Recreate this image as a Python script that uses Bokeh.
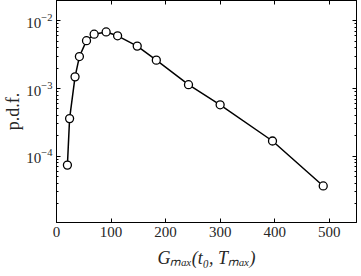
from bokeh.plotting import figure
from bokeh.models import LinearAxis, LogAxis, FixedTicker, Range1d, LogTickFormatter
from bokeh.embed import file_html
from bokeh.resources import INLINE

# data
g_max = [20, 24, 34, 42, 55, 69, 91, 112, 148, 183, 242, 300, 396, 489]
pdf = [7.4e-5, 3.6e-4, 1.49e-3, 2.97e-3, 5.1e-3, 6.36e-3, 6.86e-3, 6.02e-3,
       4.24e-3, 2.63e-3, 1.14e-3, 5.75e-4, 1.68e-4, 3.64e-5]

x_ticks = [0, 100, 200, 300, 400, 500]
y_ticks = [1e-4, 1e-3, 1e-2]
y_minor = [m * d for d in [1e-5, 1e-4, 1e-3, 1e-2] for m in range(2, 10)]

FONT = "Liberation Serif"

p = figure(frame_width=300, frame_height=222, y_axis_type="log",
           x_range=Range1d(0, 550), y_range=Range1d(1.05e-5, 2e-2),
           output_backend="svg", toolbar_location=None,
           min_border_left=46, min_border_right=1, min_border_top=0,
           min_border_bottom=0)
p.background_fill_color = "white"
p.border_fill_color = "white"
p.outline_line_color = "black"
p.outline_line_width = 1
p.xgrid.visible = False
p.ygrid.visible = False

p.line(g_max, pdf, line_color="black", line_width=1.5)
p.scatter(g_max, pdf, size=8, fill_color="white", line_color="black",
          line_width=1.3)

xt = FixedTicker(ticks=x_ticks)
yt = FixedTicker(ticks=y_ticks, minor_ticks=y_minor)

def style(ax):
    ax.axis_line_color = "black"
    ax.axis_line_width = 1
    ax.major_tick_in = 4
    ax.major_tick_out = 0
    ax.minor_tick_in = 2
    ax.minor_tick_out = 0
    ax.major_tick_line_color = "black"
    ax.minor_tick_line_color = "black"
    ax.major_label_text_font = FONT
    ax.major_label_text_font_size = "15px"
    ax.major_label_text_color = "#262626"
    ax.axis_label_text_font = FONT
    ax.axis_label_text_font_size = "18px"
    ax.axis_label_text_font_style = "normal"
    ax.axis_label_text_color = "#262626"

xa = p.xaxis[0]
xa.ticker = xt
style(xa)
xa.major_label_standoff = 4
xa.axis_label = "G\u2098\u2090\u2093(t\u2080, T\u2098\u2090\u2093)"
xa.axis_label_text_font_style = "italic"
xa.axis_label_text_font_size = "18px"
xa.axis_label_standoff = 8

ya = p.yaxis[0]
ya.ticker = yt
style(ya)
ya.formatter = LogTickFormatter()
ya.major_label_standoff = 4
ya.axis_label = "p.d.f."
ya.axis_label_text_font_size = "18px"
ya.axis_label_standoff = 0

top = LinearAxis(ticker=xt)
style(top)
top.major_label_text_font_size = "1px"
top.major_label_text_color = None
top.major_label_standoff = 0
p.add_layout(top, "above")

right = LogAxis(ticker=yt)
style(right)
right.major_label_text_font_size = "1px"
right.major_label_text_color = None
right.major_label_standoff = 0
p.add_layout(right, "right")

open("out.html", "w").write(file_html(p, INLINE))
